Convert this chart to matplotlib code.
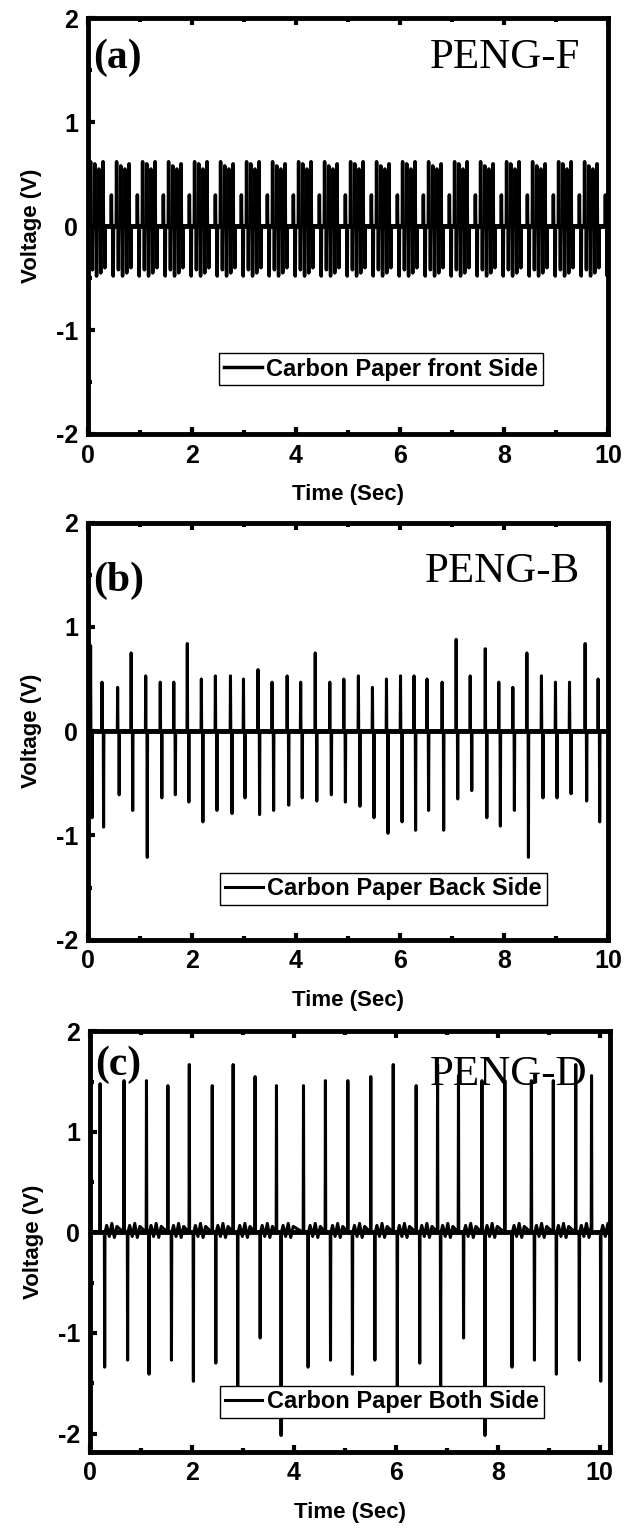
import numpy as np
import matplotlib.pyplot as plt
from matplotlib.ticker import MultipleLocator

# === panel (a) : PENG-F, dense spikes ===
a_pos_t = [0.05, 0.13, 0.21, 0.29, 0.45, 0.55, 0.63, 0.71, 0.79, 0.95,
           1.05, 1.13, 1.21, 1.29, 1.45, 1.55, 1.63, 1.71, 1.79, 1.95,
           2.05, 2.13, 2.21, 2.29, 2.45, 2.55, 2.63, 2.71, 2.79, 2.95,
           3.05, 3.13, 3.21, 3.29, 3.45, 3.55, 3.63, 3.71, 3.79, 3.95,
           4.05, 4.13, 4.21, 4.29, 4.45, 4.55, 4.63, 4.71, 4.79, 4.95,
           5.05, 5.13, 5.21, 5.29, 5.45, 5.55, 5.63, 5.71, 5.79, 5.95,
           6.05, 6.13, 6.21, 6.29, 6.45, 6.55, 6.63, 6.71, 6.79, 6.95,
           7.05, 7.13, 7.21, 7.29, 7.45, 7.55, 7.63, 7.71, 7.79, 7.95,
           8.05, 8.13, 8.21, 8.29, 8.45, 8.55, 8.63, 8.71, 8.79, 8.95,
           9.05, 9.13, 9.21, 9.29, 9.45, 9.55, 9.63, 9.71, 9.79, 9.95]
a_pos_v = [0.62, 0.60, 0.55, 0.62, 0.30, 0.62, 0.58, 0.55, 0.60, 0.30,
           0.62, 0.60, 0.55, 0.62, 0.30, 0.62, 0.58, 0.55, 0.60, 0.30,
           0.62, 0.60, 0.55, 0.62, 0.30, 0.62, 0.58, 0.55, 0.60, 0.30,
           0.62, 0.60, 0.55, 0.62, 0.30, 0.62, 0.58, 0.55, 0.60, 0.30,
           0.62, 0.60, 0.55, 0.62, 0.30, 0.62, 0.58, 0.55, 0.60, 0.30,
           0.62, 0.60, 0.55, 0.62, 0.30, 0.62, 0.58, 0.55, 0.60, 0.30,
           0.62, 0.60, 0.55, 0.62, 0.30, 0.62, 0.58, 0.55, 0.60, 0.30,
           0.62, 0.60, 0.55, 0.62, 0.30, 0.62, 0.58, 0.55, 0.60, 0.30,
           0.62, 0.60, 0.55, 0.62, 0.30, 0.62, 0.58, 0.55, 0.60, 0.30,
           0.62, 0.60, 0.55, 0.62, 0.30, 0.62, 0.58, 0.55, 0.60, 0.30]
a_neg_v = [-0.42, -0.48, -0.45, -0.40, -0.48, -0.42, -0.48, -0.45, -0.40, -0.48,
           -0.42, -0.48, -0.45, -0.40, -0.48, -0.42, -0.48, -0.45, -0.40, -0.48,
           -0.42, -0.48, -0.45, -0.40, -0.48, -0.42, -0.48, -0.45, -0.40, -0.48,
           -0.42, -0.48, -0.45, -0.40, -0.48, -0.42, -0.48, -0.45, -0.40, -0.48,
           -0.42, -0.48, -0.45, -0.40, -0.48, -0.42, -0.48, -0.45, -0.40, -0.48,
           -0.42, -0.48, -0.45, -0.40, -0.48, -0.42, -0.48, -0.45, -0.40, -0.48,
           -0.42, -0.48, -0.45, -0.40, -0.48, -0.42, -0.48, -0.45, -0.40, -0.48,
           -0.42, -0.48, -0.45, -0.40, -0.48, -0.42, -0.48, -0.45, -0.40, -0.48,
           -0.42, -0.48, -0.45, -0.40, -0.48, -0.42, -0.48, -0.45, -0.40, -0.48,
           -0.42, -0.48, -0.45, -0.40, -0.48, -0.42, -0.48, -0.45, -0.40, -0.48]

# === panel (b) : PENG-B ===
b_t = [0.05, 0.27, 0.57, 0.83, 1.11, 1.39, 1.65, 1.91, 2.18, 2.45,
       2.74, 2.99, 3.27, 3.54, 3.83, 4.09, 4.37, 4.65, 4.92, 5.20,
       5.47, 5.74, 6.01, 6.27, 6.52, 6.81, 7.08, 7.35, 7.64, 7.90,
       8.17, 8.44, 8.72, 8.99, 9.26, 9.56, 9.81]
b_pos = [0.82, 0.47, 0.42, 0.75, 0.53, 0.47, 0.47, 0.84, 0.50, 0.53,
         0.53, 0.50, 0.59, 0.47, 0.53, 0.47, 0.75, 0.47, 0.50, 0.53,
         0.42, 0.50, 0.53, 0.53, 0.50, 0.47, 0.88, 0.53, 0.79, 0.47,
         0.42, 0.75, 0.53, 0.47, 0.47, 0.84, 0.50]
b_neg = [-0.83, -0.92, -0.61, -0.76, -1.21, -0.64, -0.61, -0.68, -0.87, -0.76,
         -0.79, -0.64, -0.80, -0.76, -0.71, -0.64, -0.67, -0.61, -0.68, -0.72,
         -0.83, -0.98, -0.87, -0.95, -0.76, -0.95, -0.65, -0.57, -0.83, -0.91,
         -0.76, -1.21, -0.64, -0.64, -0.60, -0.67, -0.87]

# === panel (c) : PENG-D ===
c_pos_t = [0.20, 0.67, 1.11, 1.53, 1.95, 2.40, 2.81, 3.24, 3.66, 4.19,
           4.62, 5.06, 5.51, 5.95, 6.40, 6.82, 7.23, 7.69, 8.14, 8.66,
           9.09, 9.53, 9.84]
c_pos = [1.48, 1.51, 1.51, 1.46, 1.67, 1.46, 1.67, 1.55, 1.46, 1.46,
         1.51, 1.51, 1.55, 1.67, 1.46, 1.67, 1.56, 1.51, 1.51, 1.51,
         1.51, 1.67, 1.56]
c_neg_t = [0.29, 0.74, 1.16, 1.60, 2.03, 2.47, 2.90, 3.34, 3.75, 4.28,
           4.72, 5.15, 5.59, 6.03, 6.47, 6.88, 7.33, 7.75, 8.28, 8.72,
           9.15, 9.60, 10.02]
c_neg = [-1.34, -1.27, -1.41, -1.27, -1.48, -1.30, -1.60, -1.05, -2.02, -1.34,
         -1.27, -1.41, -1.27, -1.60, -1.30, -1.60, -1.05, -2.02, -1.34, -1.27,
         -1.41, -1.27, -1.48]
c_ripple = [0.07, -0.04, 0.09, -0.05, 0.06]   # small wiggles after each pulse


def spike_trace(pos_t, pos_v, neg_t, neg_v, ripple=None, xmax=10.0):
    # line through baseline -> peak -> baseline for every pulse
    events = [(t, v) for t, v in zip(pos_t, pos_v)] + [(t, v) for t, v in zip(neg_t, neg_v)]
    events.sort()
    xs, ys = [0.0], [0.0]
    for t, v in events:
        xs += [t - 0.006, t, t + 0.006]
        ys += [0.0, v, 0.0]
        if ripple is not None and v < 0:
            for k, r in enumerate(ripple):
                xs.append(t + 0.04 + 0.05 * k)
                ys.append(r)
    xs.append(xmax)
    ys.append(0.0)
    return np.array(xs), np.array(ys)


plt.rcParams['font.family'] = ['Liberation Sans Narrow', 'Liberation Sans', 'DejaVu Sans']
plt.rcParams['font.weight'] = 'bold'
plt.rcParams['axes.labelweight'] = 'bold'
plt.rcParams['axes.unicode_minus'] = False

fig = plt.figure(figsize=(6.33, 15.28), dpi=100)

panels = [
    dict(rect=[0.139, 0.716, 0.8215, 0.272], tag='(a)', name='PENG-F',
         label='Carbon Paper front Side', ylim=(-2, 2), xlim=(0, 10),
         tag_y=1.62, name_x=9.46, name_y=1.62, leg=(0.252, 0.195), lw=2.5),
    dict(rect=[0.139, 0.385, 0.8215, 0.273], tag='(b)', name='PENG-B',
         label='Carbon Paper Back Side', ylim=(-2, 2), xlim=(0, 10),
         tag_y=1.44, name_x=9.46, name_y=1.53, leg=(0.254, 0.161), lw=2.2),
    dict(rect=[0.142, 0.050, 0.8215, 0.275], tag='(c)', name='PENG-D',
         label='Carbon Paper Both Side', ylim=(-2.18, 2), xlim=(0, 10.2),
         tag_y=1.67, name_x=9.76, name_y=1.57, leg=(0.25, 0.157), lw=2.2),
]

traces = [
    spike_trace(a_pos_t, a_pos_v, [t + 0.035 for t in a_pos_t], a_neg_v),
    spike_trace(b_t, b_pos, [t + 0.03 for t in b_t], b_neg),
    spike_trace(c_pos_t, c_pos, c_neg_t, c_neg, ripple=c_ripple, xmax=10.2),
]

for p, (x, y) in zip(panels, traces):
    ax = fig.add_axes(p['rect'])
    ax.plot(x, y, color='black', lw=p['lw'], label=p['label'])
    ax.axhline(0, color='black', lw=3.5)
    ax.set_xlim(*p['xlim'])
    ax.set_ylim(*p['ylim'])
    ax.xaxis.set_major_locator(MultipleLocator(2))
    ax.xaxis.set_minor_locator(MultipleLocator(1))
    ax.yaxis.set_major_locator(MultipleLocator(1))
    ax.yaxis.set_minor_locator(MultipleLocator(0.5))
    ax.tick_params(which='both', direction='in', top=True, right=False,
                   labelsize=18, pad=7)
    ax.tick_params(which='major', length=5, width=3)
    ax.tick_params(which='minor', length=3, width=3)
    for lab in ax.get_xticklabels() + ax.get_yticklabels():
        lab.set_fontweight('bold')
    for s in ax.spines.values():
        s.set_linewidth(3.5)
    ax.set_xlabel('Time (Sec)', fontsize=16, fontweight='bold', labelpad=12)
    ax.set_ylabel('Voltage (V)', fontsize=16, fontweight='bold', labelpad=10)
    ax.text(0.1, p['tag_y'], p['tag'], fontsize=30, fontweight='bold',
            family='Liberation Serif', va='center', ha='left')
    ax.text(p['name_x'], p['name_y'], p['name'], fontsize=31, fontweight='normal',
            family='Liberation Serif', va='center', ha='right')
    leg = ax.legend(loc='upper left', bbox_to_anchor=p['leg'], borderaxespad=0,
                    fancybox=False, framealpha=1, edgecolor='black',
                    prop=dict(size=17, weight='bold'), handlelength=1.6,
                    handletextpad=0.2, borderpad=0.2)
    leg.get_frame().set_linewidth(1.0)

fig.savefig('out.png', dpi=100)
